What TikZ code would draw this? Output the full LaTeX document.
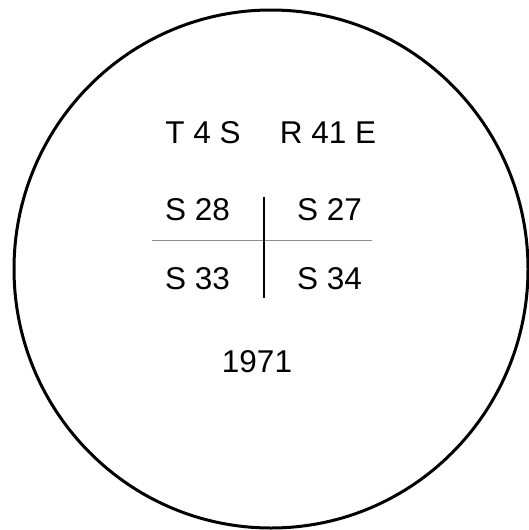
\documentclass[tikz,border=0pt]{standalone}
\usepackage{fontspec}
\setmainfont{Liberation Sans}
\begin{document}
\begin{tikzpicture}[x=1pt,y=-1pt,
  lbl/.style={inner sep=0pt, font=\fontsize{31.5}{36}\selectfont},
  rim/.style={line width=3pt},
  hline/.style={line width=1pt, draw=black!45},
  vline/.style={line width=1.2pt}]
\useasboundingbox (0,0) rectangle (528,530);
\draw[rim] (271,269) ellipse [x radius=257, y radius=259];
\node[lbl] (t4s) at (203,132.5) {T 4 S};
\node[lbl] (r41e) at (328,132.5) {R 41 E};
\node[lbl] (s28) at (197.5,210) {S 28};
\node[lbl] (s27) at (329.5,210) {S 27};
\node[lbl] (s33) at (197.5,278.5) {S 33};
\node[lbl] (s34) at (329.5,278.5) {S 34};
\node[lbl] (yr) at (257,361.5) {1971};
\coordinate (hl) at (152,240);
\coordinate (hr) at (372,240);
\coordinate (vt) at (264,197);
\coordinate (vb) at (264,298);
\draw[hline] (hl) -- (hr);
\draw[vline] (vt) -- (vb);
\end{tikzpicture}
\end{document}
